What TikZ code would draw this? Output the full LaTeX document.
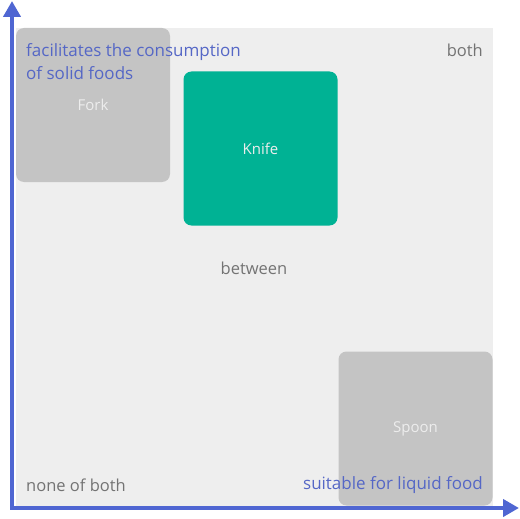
\documentclass[tikz,border=0pt]{standalone}
\usepackage{fontspec}
\setmainfont{Open Sans}
\usetikzlibrary{arrows.meta}

\definecolor{axisblue}{HTML}{4F66D2}
\definecolor{labelblue}{HTML}{5567C6}
\definecolor{quadgray}{HTML}{EEEEEE}
\definecolor{boxgray}{HTML}{C4C4C4}
\definecolor{knifegreen}{HTML}{00B294}
\definecolor{textgray}{HTML}{737373}

\begin{document}
\begin{tikzpicture}[x=1pt, y=-1pt,
    itembox/.style={rounded corners=8pt, minimum width=154pt, minimum height=154pt, inner sep=0pt, text=white!93!black, font=\fontsize{15}{17}\selectfont},
    corner/.style={text=textgray, inner sep=0pt, font=\fontsize{16.5}{19}\selectfont},
    axislabel/.style={text=labelblue, inner sep=0pt, font=\fontsize{17}{23}\selectfont, align=left}]
    \useasboundingbox (0, 0) rectangle (520, 519);
    \coordinate (O) at (12, 508);
    \coordinate (Y) at (12, 1);
    \coordinate (X) at (519, 508);

    \fill[quadgray] (16, 28) rectangle (493, 508); % quadrant area

    \node[itembox, fill=boxgray] (fork) at (93, 105) {};
    \node[itembox, fill=knifegreen] (knife) at (260.5, 148.5) {Knife};
    \node[itembox, fill=boxgray] (spoon) at (415.5, 428.5) {Spoon};

    \node[corner, anchor=east] (both) at (483, 50) {both};
    \node[corner] (between) at (254, 268) {between};
    \node[corner, anchor=west] (none) at (26, 485) {none of both};

    \node[axislabel, anchor=west] (solid) at (26, 61.5) {facilitates the consumption\\of solid foods};
    \node[axislabel, anchor=east] (liquid) at (483, 485) {suitable for liquid food};
    \node[text=white!93!black, inner sep=0pt, font=\fontsize{15}{17}\selectfont] (forklabel) at (93, 105) {Fork};

    \draw[axisblue, line width=4pt, -{Triangle[length=16pt, width=17pt]}] (O) -- (Y); % y axis
    \draw[axisblue, line width=4pt, -{Triangle[length=16pt, width=17pt]}] ([xshift=-2pt]O) -- (X); % x axis
\end{tikzpicture}
\end{document}
